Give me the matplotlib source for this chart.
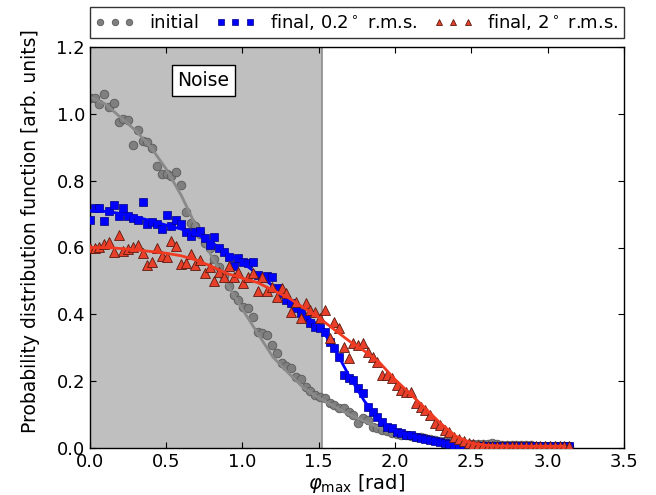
import numpy as np
import matplotlib
matplotlib.use("Agg")
import matplotlib.pyplot as plt

# ---- data ----
n_points = 101
phi = np.linspace(0, np.pi, n_points)

initial = [1.048, 1.048, 1.030, 1.058, 1.021, 1.031, 0.975, 0.985, 0.981, 0.907,
           0.953, 0.919, 0.915, 0.897, 0.845, 0.819, 0.819, 0.815, 0.825, 0.787,
           0.705, 0.672, 0.665, 0.640, 0.612, 0.600, 0.565, 0.542, 0.515, 0.485,
           0.458, 0.443, 0.423, 0.418, 0.393, 0.348, 0.345, 0.338, 0.308, 0.283,
           0.253, 0.245, 0.238, 0.213, 0.205, 0.183, 0.170, 0.159, 0.152, 0.149,
           0.134, 0.128, 0.119, 0.119, 0.109, 0.099, 0.074, 0.089, 0.084, 0.064,
           0.060, 0.054, 0.050, 0.044, 0.042, 0.040, 0.039, 0.036, 0.034, 0.033,
           0.030, 0.027, 0.024, 0.022, 0.020, 0.019, 0.017, 0.015, 0.013, 0.012,
           0.011, 0.012, 0.011, 0.013, 0.015, 0.012, 0.010, 0.009, 0.010, 0.009,
           0.008, 0.008, 0.008, 0.007, 0.007, 0.007, 0.006, 0.006, 0.006, 0.005,
           0.005]

final_02 = [0.682, 0.719, 0.719, 0.679, 0.709, 0.727, 0.695, 0.719, 0.695, 0.689,
            0.682, 0.737, 0.669, 0.675, 0.669, 0.655, 0.697, 0.665, 0.682, 0.669,
            0.647, 0.635, 0.647, 0.649, 0.627, 0.607, 0.630, 0.598, 0.587, 0.572,
            0.545, 0.568, 0.557, 0.553, 0.557, 0.518, 0.508, 0.515, 0.511, 0.478,
            0.463, 0.443, 0.433, 0.418, 0.403, 0.393, 0.373, 0.363, 0.358, 0.348,
            0.318, 0.298, 0.273, 0.218, 0.208, 0.203, 0.179, 0.164, 0.124, 0.109,
            0.094, 0.079, 0.064, 0.059, 0.049, 0.044, 0.039, 0.039, 0.032, 0.029,
            0.026, 0.024, 0.020, 0.019, 0.014, 0.012, 0.010, 0.009, 0.008, 0.008,
            0.007, 0.007, 0.007, 0.006, 0.006, 0.006, 0.006, 0.005, 0.005, 0.005,
            0.005, 0.005, 0.005, 0.005, 0.005, 0.005, 0.005, 0.005, 0.005, 0.005,
            0.005]

final_2 = [0.599, 0.599, 0.602, 0.609, 0.615, 0.587, 0.637, 0.589, 0.597, 0.602,
           0.607, 0.583, 0.548, 0.557, 0.599, 0.575, 0.572, 0.619, 0.605, 0.551,
           0.554, 0.580, 0.548, 0.563, 0.523, 0.541, 0.501, 0.528, 0.511, 0.545,
           0.511, 0.528, 0.495, 0.511, 0.523, 0.471, 0.511, 0.471, 0.481, 0.451,
           0.478, 0.465, 0.408, 0.438, 0.388, 0.433, 0.413, 0.408, 0.390, 0.413,
           0.328, 0.378, 0.358, 0.303, 0.268, 0.313, 0.308, 0.313, 0.288, 0.273,
           0.258, 0.218, 0.218, 0.208, 0.189, 0.174, 0.168, 0.168, 0.134, 0.124,
           0.114, 0.099, 0.074, 0.069, 0.054, 0.049, 0.034, 0.028, 0.020, 0.016,
           0.012, 0.010, 0.008, 0.007, 0.007, 0.006, 0.006, 0.006, 0.005, 0.005,
           0.005, 0.005, 0.005, 0.005, 0.005, 0.005, 0.005, 0.005, 0.005, 0.005,
           0.005]

# smooth fitted curves
fit_x = [0.0, 0.1, 0.2, 0.3, 0.4, 0.5, 0.6, 0.7, 0.8, 0.9, 1.0, 1.1, 1.2, 1.3,
         1.4, 1.5, 1.6, 1.7, 1.8, 1.9, 2.0, 2.1, 2.2, 2.3, 2.4, 2.5, 2.6, 2.7,
         2.8, 2.9, 3.0, 3.1]
fit_initial = [1.05, 1.03, 0.99, 0.95, 0.90, 0.835, 0.755, 0.66, 0.572, 0.49,
               0.415, 0.343, 0.272, 0.225, 0.18, 0.15, 0.125, 0.10, 0.08, 0.06,
               0.045, 0.035, 0.028, 0.022, 0.017, 0.013, 0.011, 0.010, 0.009,
               0.008, 0.007, 0.007]
fit_02 = [0.71, 0.708, 0.702, 0.692, 0.68, 0.667, 0.655, 0.64, 0.615, 0.583,
          0.555, 0.52, 0.485, 0.445, 0.40, 0.367, 0.30, 0.215, 0.14, 0.085,
          0.052, 0.037, 0.025, 0.016, 0.010, 0.007, 0.006, 0.005, 0.005, 0.005,
          0.005, 0.005]
fit_2 = [0.60, 0.60, 0.597, 0.593, 0.588, 0.583, 0.575, 0.562, 0.543, 0.522,
         0.508, 0.495, 0.472, 0.45, 0.42, 0.39, 0.355, 0.32, 0.29, 0.255,
         0.205, 0.162, 0.118, 0.073, 0.035, 0.015, 0.008, 0.006, 0.005, 0.005,
         0.005, 0.005]

noise_limit = 1.52
labels = ["initial", r"final, 0.2$^\circ$ r.m.s.", r"final, 2$^\circ$ r.m.s."]

# ---- plot ----
plt.rcParams['font.family'] = ['DejaVu Sans']
plt.rcParams['mathtext.fontset'] = 'dejavusans'
fig = plt.figure(figsize=(6.56, 4.95), dpi=100)
ax = fig.add_axes([0.137, 0.095, 0.814, 0.810])

ax.axvspan(0, noise_limit, facecolor='#bfbfbf', edgecolor='none', zorder=0)
ax.axvline(noise_limit, color='#8c8c8c', lw=1.2, zorder=0.5)

ax.plot(phi, initial, 'o', ms=6.2, mfc='#7f7f7f', mec='#5a5a5a', mew=0.6,
        label=labels[0], zorder=2)
ax.plot(fit_x, fit_initial, '-', color='#8a8a8a', lw=2, zorder=2.1)
ax.plot(phi, final_02, 's', ms=6.0, mfc='#0000ff', mec='#000080', mew=0.5,
        label=labels[1], zorder=3)
ax.plot(fit_x, fit_02, '-', color='#0000ff', lw=2, zorder=3.1)
ax.plot(phi, final_2, '^', ms=6.5, mfc='#e8402a', mec='#5a1a10', mew=0.6,
        label=labels[2], zorder=4)
ax.plot(fit_x, fit_2, '-', color='#f03a22', lw=2, zorder=4.1)

ax.text(0.745, 1.10, "Noise", fontsize=13.5, ha='center', va='center',
        bbox=dict(boxstyle='square,pad=0.3', facecolor='white', edgecolor='black', lw=1))

ax.set_xlim(0, 3.5)
ax.set_ylim(0, 1.2)
ax.set_xticks(np.arange(0, 3.51, 0.5))
ax.set_yticks(np.arange(0, 1.21, 0.2))
ax.tick_params(direction='in', top=True, right=True, labelsize=13, length=4, width=0.8)
ax.set_xlabel(r"$\varphi_{\rm max}$ [rad]", fontsize=14, labelpad=1)
ax.set_ylabel("Probability distribution function [arb. units]", fontsize=13.5)
ax.yaxis.set_label_coords(-0.093, 0.54)
for s in ax.spines.values():
    s.set_linewidth(1.0)

leg = ax.legend(loc='lower center', bbox_to_anchor=(0.5, 1.014), ncol=3, numpoints=3,
                fontsize=13, frameon=True, fancybox=False, edgecolor='black',
                handlelength=2.2, handletextpad=0.8, columnspacing=0.9,
                borderaxespad=0.2, borderpad=0.3, markerscale=0.75)
leg.get_frame().set_linewidth(1.0)

fig.savefig("out.png", dpi=100)
